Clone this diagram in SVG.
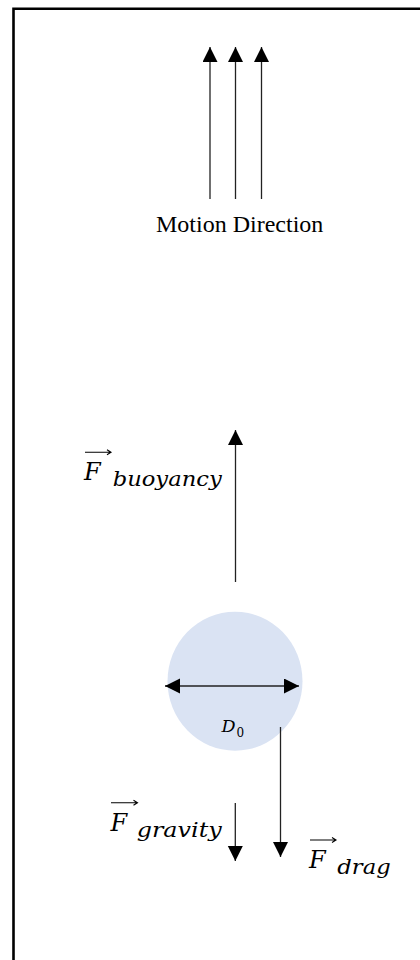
<svg xmlns="http://www.w3.org/2000/svg" width="420" height="960" viewBox="0 0 420 960">
<style>
.ln{stroke:#222;stroke-width:1.3;fill:none}
.cap{font-family:"Liberation Serif","Times New Roman",serif;font-size:24px;fill:#000}
.F{font-family:"DejaVu Serif","Liberation Serif",serif;font-style:italic;font-size:24px;fill:#000}
.sub{font-family:"DejaVu Serif","Liberation Serif",serif;font-style:italic;font-size:20px;fill:#000}
.vec{stroke:#000;stroke-width:1.1;fill:none}
</style>
<defs>
<marker id="ah" markerUnits="userSpaceOnUse" markerWidth="16" markerHeight="16" refX="15" refY="7.5" orient="auto-start-reverse" viewBox="0 0 16 16">
<path d="M0,0 L15,7.5 L0,15 z" fill="#000"/>
</marker>
</defs>
<rect x="0" y="0" width="420" height="960" fill="#fff"/>
<path d="M13.5,970 V8.7 H430" fill="none" stroke="#000" stroke-width="2.6"/>
<g id="particle">
<ellipse cx="235" cy="681.2" rx="67.5" ry="69.5" fill="#DAE3F3"/>
</g>
<g id="connectors">
<line class="ln" x1="210" y1="199" x2="210" y2="47" marker-end="url(#ah)"/>
<line class="ln" x1="235.5" y1="199" x2="235.5" y2="47" marker-end="url(#ah)"/>
<line class="ln" x1="261.5" y1="199" x2="261.5" y2="47" marker-end="url(#ah)"/>
<line class="ln" x1="235.5" y1="582" x2="235.5" y2="430" marker-end="url(#ah)"/>
<line class="ln" x1="165" y1="686" x2="299" y2="686" marker-start="url(#ah)" marker-end="url(#ah)"/>
<line class="ln" x1="280.5" y1="727" x2="280.5" y2="857" marker-end="url(#ah)"/>
<line class="ln" x1="235.3" y1="803" x2="235.3" y2="861" marker-end="url(#ah)"/>
</g>
<g id="motion-label">
<text class="cap" x="239.7" y="232" text-anchor="middle">Motion Direction</text>
</g>
<g id="D0-label">
<text x="221.5" y="732" font-family="DejaVu Serif, serif" font-style="italic" font-size="17.5px">D</text>
<text x="236.5" y="736.7" font-family="DejaVu Serif, serif" font-size="12px">0</text>
</g>
<g id="buoyancy-label">
<text class="F" x="84" y="480">F</text>
<path class="vec" d="M85,452.3 H110.5 M107,449.8 L111,452.3 L107,454.8"/>
<text class="sub" x="112.7" y="485.7" textLength="109" lengthAdjust="spacingAndGlyphs">buoyancy</text>
</g>
<g id="gravity-label">
<text class="F" x="110.5" y="830.7">F</text>
<path class="vec" d="M111,802.7 H137 M133.5,800.2 L137.5,802.7 L133.5,805.2"/>
<text class="sub" x="136.7" y="837.3" textLength="85" lengthAdjust="spacingAndGlyphs">gravity</text>
</g>
<g id="drag-label">
<text class="F" x="309" y="867.7">F</text>
<path class="vec" d="M310,840 H335.5 M332,837.5 L336,840 L332,842.5"/>
<text class="sub" x="337.3" y="874.3" textLength="53.4" lengthAdjust="spacingAndGlyphs">drag</text>
</g>
</svg>
